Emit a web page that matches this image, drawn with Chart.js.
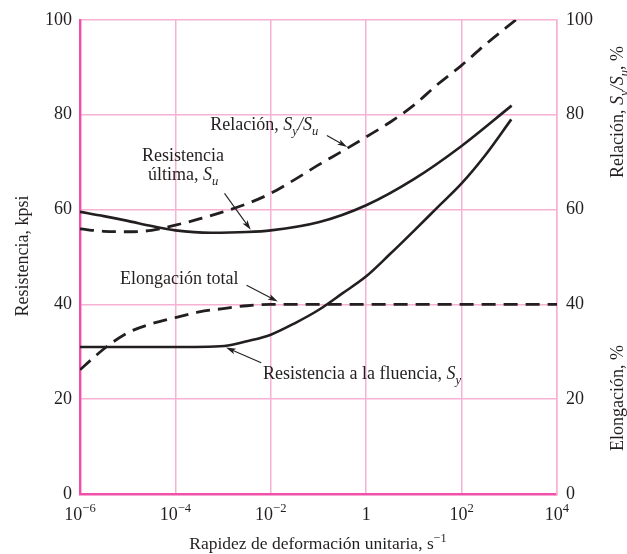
<!DOCTYPE html>
<html>
<head>
<meta charset="utf-8">
<script src="https://cdn.jsdelivr.net/npm/chart.js@4.4.1/dist/chart.umd.min.js"></script>
<style>
  html, body { margin: 0; padding: 0; background: #fff; }
  #wrap { width: 627px; height: 554px; }
</style>
</head>
<body>
<div id="wrap"><canvas id="chart" width="627" height="554"></canvas></div>
<script>
/* ---- DATA ---- */
const xTicks = [1e-6, 1e-4, 1e-2, 1, 1e2, 1e4];
const xTickExp = ['−6', '−4', '−2', '', '2', '4'];
const yTicks = [0, 20, 40, 60, 80, 100];

// Resistencia ultima, Su (kpsi)
const suRate  = [1e-6, 3.16e-6, 1e-5, 3.16e-5, 1e-4, 5.6e-4, 3.16e-3, 1e-2, 1e-1, 1, 10, 100, 1.12e3];
const suValue = [59.5, 58.6, 57.6, 56.5, 55.6, 55.1, 55.25, 55.6, 57.3, 60.9, 66.4, 73.4, 81.9];

// Resistencia a la fluencia, Sy (kpsi)
const syRate  = [1e-6, 1e-5, 1e-4, 5e-4, 1.26e-3, 3.16e-3, 1e-2, 3.16e-2, 1e-1, 3.16e-1, 1, 3.16, 10, 31.6, 100, 316, 1.1e3];
const syValue = [31, 31, 31, 31.05, 31.3, 32.2, 33.6, 36.0, 38.8, 42.3, 45.9, 50.6, 55.5, 60.5, 65.5, 71.5, 79];

// Relacion Sy/Su (%)
const ratioRate  = [1e-6, 3.16e-6, 1e-5, 3.16e-5, 1e-4, 3.16e-4, 1e-3, 3.16e-3, 1e-2, 3.16e-2, 1e-1, 3.16e-1, 1, 3.16, 10, 31.6, 100, 316, 1.38e3];
const ratioValue = [55.9, 55.4, 55.3, 55.6, 56.7, 58.0, 59.5, 61.2, 63.4, 66.3, 69.4, 72.3, 75.3, 78.4, 82.0, 86.4, 90.4, 94.8, 100];

// Elongacion total (%)
const elongRate  = [1e-6, 2e-6, 3.55e-6, 1e-5, 3.16e-5, 1e-4, 3.16e-4, 1e-3, 3.16e-3, 1e-2, 1, 1e2, 1e4];
const elongValue = [26.2, 28.9, 31.0, 34.0, 35.9, 37.2, 38.4, 39.1, 39.7, 40, 40, 40, 40];

/* ---- STYLE ---- */
const INK = '#231f20';
const AXIS_PINK = '#f050a8';
const GRID_PINK = '#f7b2d3';
const SERIF = '"Liberation Serif", "Times New Roman", serif';
const FS = 18;

const pts = (xs, ys) => xs.map((x, i) => ({ x, y: ys[i] }));

/* ---- rich text helper (italic, sub, sup) ---- */
function partFont(p, size) {
  const s = (p.sub || p.sup) ? size * 0.7 : size;
  return (p.i ? 'italic ' : '') + s + 'px ' + SERIF;
}
function richWidth(ctx, parts, size) {
  let w = 0;
  parts.forEach(p => { ctx.font = partFont(p, size); w += ctx.measureText(p.t).width; });
  return w;
}
function drawRich(ctx, parts, x, y, size, align) {
  const w = richWidth(ctx, parts, size);
  let cx = align === 'center' ? x - w / 2 : align === 'right' ? x - w : x;
  ctx.textAlign = 'left';
  parts.forEach(p => {
    ctx.font = partFont(p, size);
    const dy = p.sub ? size * 0.28 : p.sup ? -size * 0.42 : 0;
    ctx.fillText(p.t, cx, y + dy);
    cx += ctx.measureText(p.t).width;
  });
}
function arrow(ctx, x1, y1, x2, y2) {
  const a = Math.atan2(y2 - y1, x2 - x1);
  const L = 10, W = 3;
  ctx.beginPath();
  ctx.moveTo(x1, y1);
  ctx.lineTo(x2 - Math.cos(a) * L * 0.7, y2 - Math.sin(a) * L * 0.7);
  ctx.lineWidth = 1.1; ctx.strokeStyle = INK; ctx.stroke();
  ctx.beginPath();
  ctx.moveTo(x2, y2);
  ctx.lineTo(x2 - Math.cos(a) * L + Math.sin(a) * W, y2 - Math.sin(a) * L - Math.cos(a) * W);
  ctx.lineTo(x2 - Math.cos(a) * L * 0.75, y2 - Math.sin(a) * L * 0.75);
  ctx.lineTo(x2 - Math.cos(a) * L - Math.sin(a) * W, y2 - Math.sin(a) * L + Math.cos(a) * W);
  ctx.closePath();
  ctx.fillStyle = INK; ctx.fill();
}

/* ---- annotations, anchored in data coords ---- */
const notes = [
  { lines: [[{ t: 'Relación, ' }, { t: 'S', i: true }, { t: 'y', i: true, sub: true }, { t: '/S', i: true }, { t: 'u', i: true, sub: true }]],
    at: [5.4e-4, 76.7], align: 'left', from: [0.15, 75.6], to: [0.4, 73.2] },
  { lines: [[{ t: 'Resistencia' }], [{ t: 'última, ' }, { t: 'S', i: true }, { t: 'u', i: true, sub: true }]],
    at: [1.45e-4, 70.2], align: 'center', lineGap: 19, from: [1.07e-3, 63.4], to: [3.8e-3, 55.7] },
  { lines: [[{ t: 'Elongación total' }]],
    at: [6.9e-6, 44.2], align: 'left', from: [3.1e-3, 44.0], to: [1.4e-2, 40.6] },
  { lines: [[{ t: 'Resistencia a la fluencia, ' }, { t: 'S', i: true }, { t: 'y', i: true, sub: true }]],
    at: [6.9e-3, 24.3], align: 'left', from: [6.3e-3, 27.7], to: [1.15e-3, 30.9] },
];

const textPlugin = {
  id: 'figText',
  afterDraw(chart) {
    const { ctx, scales } = chart;
    const sx = scales.x, sy = scales.y;
    ctx.save();
    ctx.fillStyle = INK;
    ctx.textBaseline = 'alphabetic';

    // x tick labels: 10 with superscript exponent
    xTicks.forEach((v, i) => {
      const px = sx.getPixelForValue(v);
      const parts = xTickExp[i] === '' ? [{ t: '1' }] : [{ t: '10' }, { t: xTickExp[i], sup: true }];
      drawRich(ctx, parts, px, 520, FS, 'center');
    });

    // axis titles
    drawRich(ctx, [{ t: 'Rapidez de deformación unitaria, s' }, { t: '−1', sup: true }], 318, 549, FS - 0.5, 'center');

    const rot = (parts, x, y) => {
      ctx.save(); ctx.translate(x, y); ctx.rotate(-Math.PI / 2);
      drawRich(ctx, parts, 0, 0, FS, 'center'); ctx.restore();
    };
    rot([{ t: 'Resistencia, kpsi' }], 28, 256);
    rot([{ t: 'Relación, ' }, { t: 'S', i: true }, { t: 'y', i: true, sub: true }, { t: '/S', i: true }, { t: 'u', i: true, sub: true }, { t: ', %' }], 623, 112);
    rot([{ t: 'Elongación, %' }], 623, 398);

    // annotations
    notes.forEach(n => {
      const x = sx.getPixelForValue(n.at[0]), y = sy.getPixelForValue(n.at[1]);
      n.lines.forEach((ln, k) => drawRich(ctx, ln, x, y + k * (n.lineGap || 0), FS, n.align));
      arrow(ctx, sx.getPixelForValue(n.from[0]), sy.getPixelForValue(n.from[1]),
                 sx.getPixelForValue(n.to[0]), sy.getPixelForValue(n.to[1]));
    });
    ctx.restore();
  }
};

const solid = (data, axis) => ({
  data, yAxisID: axis, borderColor: INK, borderWidth: 2.6,
  pointRadius: 0, fill: false, cubicInterpolationMode: 'monotone'
});
const dashed = (data, axis) => Object.assign(solid(data, axis), { borderDash: [14, 8], borderWidth: 2.8 });

// no light grid line on top of the heavy left / bottom axis lines
const gridColor = edge => c => (c.tick && c.tick.value === edge) ? 'rgba(0,0,0,0)' : GRID_PINK;

new Chart(document.getElementById('chart'), {
  type: 'line',
  data: {
    datasets: [
      solid(pts(suRate, suValue), 'y'),
      solid(pts(syRate, syValue), 'y'),
      dashed(pts(ratioRate, ratioValue), 'y2'),
      dashed(pts(elongRate, elongValue), 'y2'),
    ]
  },
  options: {
    responsive: false, animation: false,
    layout: { padding: { top: 17, left: 0, right: 0, bottom: 0 } },
    plugins: { legend: { display: false }, tooltip: { enabled: false } },
    scales: {
      x: {
        type: 'logarithmic', min: 1e-6, max: 1e4,
        afterBuildTicks: s => { s.ticks = xTicks.map(v => ({ value: v })); },
        afterFit: s => { s.height = 60; },
        ticks: { display: false },
        grid: { color: gridColor(1e-6), lineWidth: 1.5, drawTicks: false },
        border: { color: AXIS_PINK, width: 2.4 }
      },
      y: {
        min: 0, max: 100,
        afterBuildTicks: s => { s.ticks = yTicks.map(v => ({ value: v })); },
        afterFit: s => { s.width = 80; },
        ticks: { color: INK, font: { family: SERIF, size: FS }, padding: 8 },
        grid: { color: gridColor(0), lineWidth: 1.5, drawTicks: false },
        border: { color: AXIS_PINK, width: 2.4 }
      },
      y2: {
        position: 'right', min: 0, max: 100,
        afterBuildTicks: s => { s.ticks = yTicks.map(v => ({ value: v })); },
        afterFit: s => { s.width = 70; },
        ticks: { color: INK, font: { family: SERIF, size: FS }, padding: 9 },
        grid: { display: false, color: 'rgba(0,0,0,0)', drawTicks: false },
        border: { color: GRID_PINK, width: 1.5 }
      }
    }
  },
  plugins: [textPlugin]
});
</script>
</body>
</html>
